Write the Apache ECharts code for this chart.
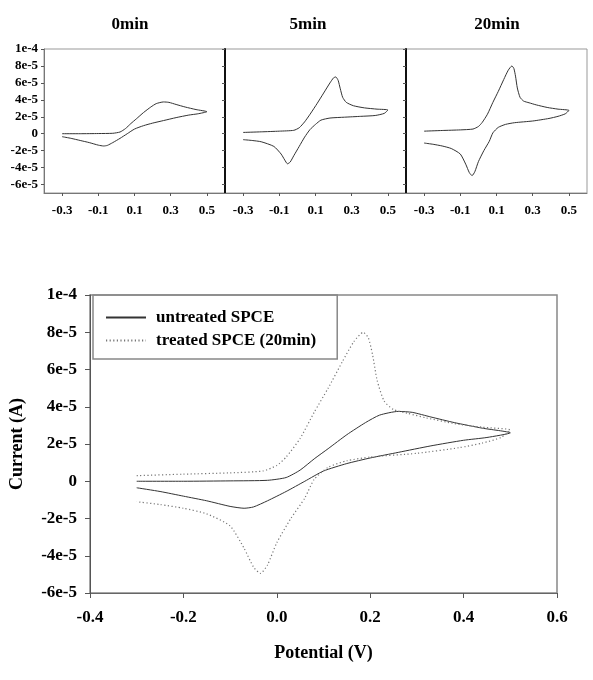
<!DOCTYPE html>
<html>
<head>
<meta charset="utf-8">
<script src="https://cdn.jsdelivr.net/npm/echarts@6/dist/echarts.min.js"></script>
<style>
  html, body { margin: 0; padding: 0; background: #fff; }
  #chart { width: 593px; height: 680px; }
</style>
</head>
<body>
<div id="chart"></div>
<script>
// CV curves: [potential (V), current (A)], forward scan then reverse scan
const cv0min = [
  [-0.30, 0.00e-5], [-0.20, 0.00e-5], [-0.10, 0.02e-5], [-0.02, 0.05e-5], [0.02, 0.20e-5],
  [0.05, 0.60e-5], [0.08, 1.20e-5], [0.11, 1.75e-5], [0.15, 2.50e-5], [0.19, 3.15e-5],
  [0.22, 3.55e-5], [0.26, 3.75e-5], [0.29, 3.70e-5], [0.33, 3.45e-5], [0.38, 3.15e-5],
  [0.44, 2.85e-5], [0.50, 2.60e-5],
  [0.45, 2.35e-5], [0.40, 2.20e-5], [0.33, 1.90e-5], [0.26, 1.55e-5], [0.20, 1.25e-5],
  [0.15, 0.95e-5], [0.10, 0.55e-5], [0.06, 0.00e-5], [0.02, -0.55e-5], [-0.02, -1.05e-5],
  [-0.05, -1.38e-5], [-0.07, -1.45e-5], [-0.10, -1.35e-5], [-0.15, -1.05e-5], [-0.20, -0.80e-5],
  [-0.25, -0.55e-5], [-0.30, -0.35e-5]
]
const cv5min = [
  [-0.30, 0.15e-5], [-0.20, 0.22e-5], [-0.10, 0.30e-5], [-0.02, 0.40e-5], [0.01, 0.70e-5],
  [0.04, 1.40e-5], [0.07, 2.30e-5], [0.11, 3.60e-5], [0.145, 4.80e-5], [0.18, 6.00e-5],
  [0.20, 6.60e-5], [0.212, 6.70e-5], [0.225, 6.30e-5], [0.237, 5.30e-5], [0.25, 4.30e-5],
  [0.27, 3.70e-5], [0.31, 3.30e-5], [0.37, 3.05e-5], [0.44, 2.90e-5], [0.50, 2.80e-5],
  [0.48, 2.40e-5], [0.43, 2.15e-5], [0.35, 2.05e-5], [0.26, 1.95e-5], [0.18, 1.85e-5],
  [0.13, 1.60e-5], [0.10, 1.10e-5], [0.07, 0.50e-5], [0.04, -0.40e-5], [0.01, -1.50e-5],
  [-0.02, -2.60e-5], [-0.04, -3.35e-5], [-0.055, -3.55e-5], [-0.07, -3.10e-5], [-0.09, -2.40e-5],
  [-0.13, -1.50e-5], [-0.20, -0.95e-5], [-0.25, -0.80e-5], [-0.30, -0.70e-5]
]
const cv20min = [
  [-0.30, 0.30e-5], [-0.20, 0.38e-5], [-0.10, 0.45e-5], [-0.03, 0.55e-5], [0.00, 0.85e-5],
  [0.02, 1.30e-5], [0.05, 2.30e-5], [0.08, 3.70e-5], [0.11, 5.00e-5], [0.14, 6.40e-5],
  [0.165, 7.50e-5], [0.185, 8.00e-5], [0.196, 7.70e-5], [0.205, 6.80e-5], [0.215, 5.40e-5],
  [0.23, 4.30e-5], [0.25, 3.85e-5], [0.28, 3.65e-5], [0.32, 3.40e-5], [0.38, 3.10e-5],
  [0.44, 2.90e-5], [0.50, 2.75e-5],
  [0.48, 2.35e-5], [0.44, 2.05e-5], [0.39, 1.80e-5], [0.30, 1.50e-5], [0.20, 1.30e-5],
  [0.15, 1.10e-5], [0.11, 0.75e-5], [0.08, 0.10e-5], [0.06, -0.90e-5], [0.03, -2.00e-5],
  [0.00, -3.30e-5], [-0.02, -4.50e-5], [-0.035, -4.95e-5], [-0.05, -4.60e-5], [-0.07, -3.60e-5],
  [-0.10, -2.40e-5], [-0.15, -1.75e-5], [-0.20, -1.45e-5], [-0.25, -1.25e-5], [-0.30, -1.10e-5]
]

const panelTitles = ['0min', '5min', '20min']
const panelCurves = [cv0min, cv5min, cv20min]
const legendNames = ['untreated SPCE', 'treated SPCE (20min)']

const smallXTicks = [-0.3, -0.1, 0.1, 0.3, 0.5]
const yTickValues = [-6e-5, -4e-5, -2e-5, 0, 2e-5, 4e-5, 6e-5, 8e-5, 1e-4]
const yTickLabels = ['-6e-5', '-4e-5', '-2e-5', '0', '2e-5', '4e-5', '6e-5', '8e-5', '1e-4']

const FONT = '"Liberation Serif", "Times New Roman", serif'

function yLabel(v) {
  let best = 0
  yTickValues.forEach((t, i) => {
    if (Math.abs(t - v) < Math.abs(yTickValues[best] - v)) best = i
  })
  return yTickLabels[best]
}

const labelStyle = (size) => ({ color: '#000', fontFamily: FONT, fontWeight: 'bold', fontSize: size })

// three small panels on top, one big chart below
const panelLeft = [44, 225, 406]
const grids = panelLeft.map(l => ({
  left: l, top: 49, width: 181, height: 144,
  show: true, borderColor: '#999', borderWidth: 1
}))
grids.push({ left: 90, top: 295, width: 467, height: 298, show: true, borderColor: '#888', borderWidth: 1.5 })

const xAxes = panelLeft.map((l, i) => ({
  type: 'value', gridIndex: i, min: -0.4, max: 0.6,
  axisLine: { onZero: false, lineStyle: { color: '#777', width: 1 } },
  axisTick: { customValues: smallXTicks, length: 3, lineStyle: { color: '#555' } },
  axisLabel: { customValues: smallXTicks, formatter: v => v.toFixed(1), margin: 11, ...labelStyle(13) },
  splitLine: { show: false }
}))
xAxes.push({
  type: 'value', gridIndex: 3, min: -0.4, max: 0.6, interval: 0.2,
  name: 'Potential (V)', nameLocation: 'middle', nameGap: 51,
  nameTextStyle: labelStyle(18),
  axisLine: { onZero: false, lineStyle: { color: '#666', width: 1 } },
  axisTick: { length: 5, lineStyle: { color: '#555' } },
  axisLabel: { formatter: v => v.toFixed(1), margin: 16, ...labelStyle(17) },
  splitLine: { show: false }
})

const yAxes = panelLeft.map((l, i) => ({
  type: 'value', gridIndex: i, min: -7e-5, max: 1e-4,
  axisLine: { show: true, onZero: false, lineStyle: { color: i === 0 ? '#777' : '#111', width: i === 0 ? 1 : 2 } },
  axisTick: { show: true, customValues: yTickValues, length: 3, lineStyle: { color: '#555' } },
  axisLabel: { show: i === 0, customValues: yTickValues, formatter: yLabel, margin: 6, ...labelStyle(13) },
  splitLine: { show: false }
}))
yAxes.push({
  type: 'value', gridIndex: 3, min: -6e-5, max: 1e-4,
  name: 'Current (A)', nameLocation: 'middle', nameGap: 64,
  nameTextStyle: labelStyle(18),
  axisLine: { show: true, onZero: false, lineStyle: { color: '#555', width: 1 } },
  axisTick: { show: true, customValues: yTickValues, length: 5, lineStyle: { color: '#555' } },
  axisLabel: { customValues: yTickValues, formatter: yLabel, margin: 13, ...labelStyle(17) },
  splitLine: { show: false }
})

const solid = { color: '#333', width: 1, type: 'solid' }
const dotted = { color: '#777', width: 1.2, type: [1.2, 2.4] }

const series = panelCurves.map((d, i) => ({
  name: panelTitles[i], type: 'line', xAxisIndex: i, yAxisIndex: i,
  data: d, smooth: 0.2, symbol: 'none', lineStyle: solid
}))
series.push(
  { name: legendNames[0], type: 'line', xAxisIndex: 3, yAxisIndex: 3,
    data: cv0min, smooth: 0.2, symbol: 'none', lineStyle: solid, itemStyle: { color: '#333' } },
  { name: legendNames[1], type: 'line', xAxisIndex: 3, yAxisIndex: 3,
    data: cv20min, smooth: 0.2, symbol: 'none', lineStyle: dotted, itemStyle: { color: '#777' } }
)

const titleX = [130, 308, 497]
const chart = echarts.init(document.getElementById('chart'), null, { renderer: 'canvas' })
chart.setOption({
  backgroundColor: '#fff',
  animation: false,
  title: panelTitles.map((t, i) => ({
    text: t, left: titleX[i], top: 16, textAlign: 'center', padding: 0,
    textStyle: labelStyle(17)
  })),
  legend: {
    data: legendNames, orient: 'vertical', left: 93, top: 295,
    padding: [14, 21, 10, 12], itemGap: 6, itemWidth: 40, itemHeight: 10,
    borderColor: '#888', borderWidth: 1.5, selectedMode: false,
    itemStyle: { opacity: 0 },
    textStyle: { ...labelStyle(17), padding: [0, 0, 0, 5] }
  },
  grid: grids,
  xAxis: xAxes,
  yAxis: yAxes,
  series
})
</script>
</body>
</html>
